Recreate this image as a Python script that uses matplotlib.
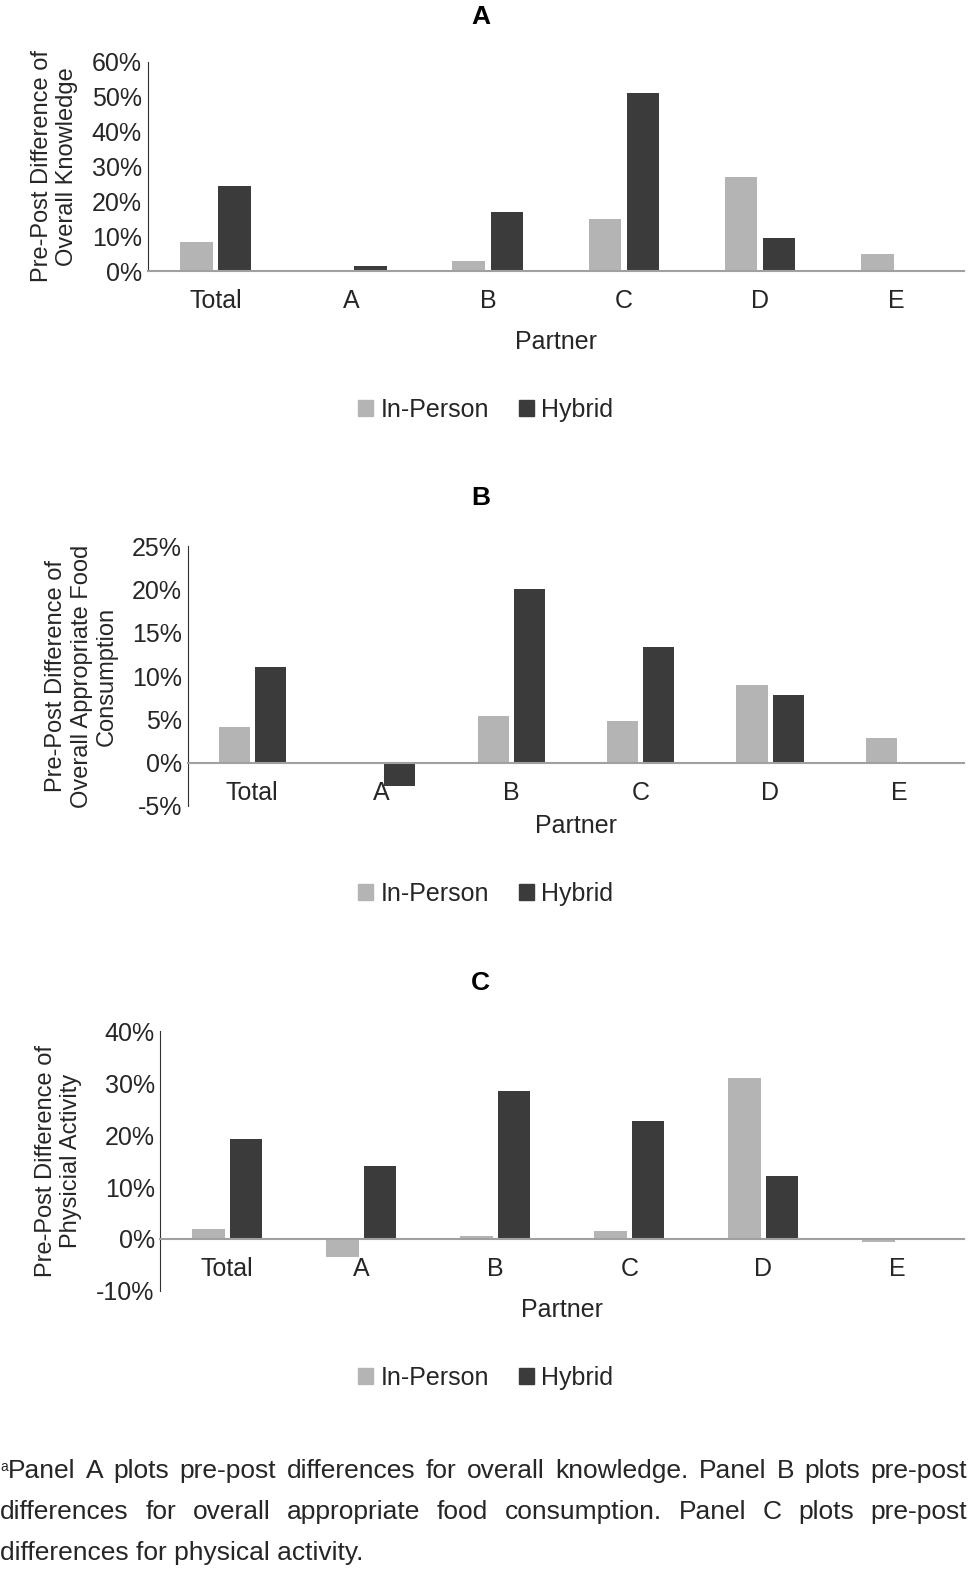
import numpy as np
import matplotlib.pyplot as plt
from matplotlib.ticker import FuncFormatter

plt.rcParams['font.family'] = ['Liberation Sans', 'DejaVu Sans']

partners = ["Total", "A", "B", "C", "D", "E"]
knowledge_in = [8.3, 0, 2.8, 15, 27, 5]
knowledge_hyb = [24.5, 1.5, 17, 51, 9.5, 0]
food_in = [4.1, 0, 5.4, 4.8, 9, 2.9]
food_hyb = [11, -2.7, 20, 13.3, 7.8, 0]
activity_in = [2, -3.4, 0.5, 1.5, 31, -0.5]
activity_hyb = [19.3, 14, 28.5, 22.7, 12.1, 0]

LIGHT = "#b4b4b4"
DARK = "#3b3b3b"
TXT = "#262626"

fig = plt.figure(figsize=(9.77, 15.85), dpi=100)
pct = FuncFormatter(lambda v, p: f"{v:.0f}%".replace("\u2212", "-"))

def panel(rect, title, title_y, ylabel, vin, vhyb, ylim, step, partner_y, legend_y):
    ax = fig.add_axes(rect)
    x = np.arange(len(partners))
    w = 0.24
    ax.bar(x - 0.14, vin, w, color=LIGHT)
    ax.bar(x + 0.14, vhyb, w, color=DARK)
    ax.set_xlim(-0.5, 5.5)
    ax.set_ylim(*ylim)
    ax.set_yticks(np.arange(ylim[0], ylim[1] + 0.1, step))
    ax.yaxis.set_major_formatter(pct)
    ax.set_xticks(x)
    ax.set_xticklabels(partners)
    ax.spines[['top', 'right']].set_visible(False)
    ax.spines['bottom'].set_position(('data', 0))
    ax.spines['bottom'].set_color("#a0a0a0")
    ax.spines['bottom'].set_linewidth(1.5)
    ax.spines['left'].set_color("#303030")
    ax.tick_params(axis='x', length=0, labelsize=18, pad=13, labelcolor=TXT)
    ax.tick_params(axis='y', length=0, labelsize=18, pad=4, labelcolor=TXT)
    fig.text(0.492, title_y, title, fontsize=19, fontweight='bold', ha='center', va='center')
    ax.set_ylabel(ylabel, fontsize=17, labelpad=10, color=TXT)
    ax.text(0.5, partner_y, "Partner", transform=ax.transAxes, ha='center',
            va='center', fontsize=18, color=TXT)
    h1 = plt.Rectangle((0, 0), 1, 1, color=LIGHT)
    h2 = plt.Rectangle((0, 0), 1, 1, color=DARK)
    ax.legend([h1, h2], ["In-Person", "Hybrid"], loc='center',
              bbox_to_anchor=(0.497, legend_y), bbox_transform=fig.transFigure,
              ncol=2, frameon=False, fontsize=18, handlelength=0.6, handleheight=0.6,
              handletextpad=0.3, columnspacing=1.2, labelcolor=TXT)
    return ax

panel([0.151, 0.829, 0.836, 0.132], "A", 1 - 17 / 1585,
      "Pre-Post Difference of\nOverall Knowledge",
      knowledge_in, knowledge_hyb, (0, 60), 10, -0.34, 1 - 410 / 1585)
panel([0.192, 0.4915, 0.795, 0.164], "B", 1 - 498 / 1585,
      "Pre-Post Difference of\nOverall Appropriate Food\nConsumption",
      food_in, food_hyb, (-5, 25), 5, -0.077, 1 - 894 / 1585)
panel([0.164, 0.1855, 0.823, 0.164], "C", 1 - 983 / 1585,
      "Pre-Post Difference of\nPhysicial Activity",
      activity_in, activity_hyb, (-10, 40), 10, -0.073, 1 - 1378 / 1585)

# caption, justified lines
lines = [
    "Panel A plots pre-post differences for overall knowledge. Panel B plots pre-post",
    "differences for overall appropriate food consumption. Panel C plots pre-post",
]
last = "differences for physical activity."
FS = 19
fig.text(0.0, 1 - 1471 / 1585, "a", fontsize=10, va='baseline', color=TXT)
renderer = fig.canvas.get_renderer()
ys = [1 - 1478 / 1585, 1 - 1519 / 1585]
for i, (line, y) in enumerate(zip(lines, ys)):
    words = line.split()
    x0 = 0.008 if i == 0 else 0.0
    x1 = 0.99
    widths = []
    for wd in words:
        t = fig.text(0, 0, wd, fontsize=FS)
        bb = t.get_window_extent(renderer)
        widths.append(bb.width / fig.bbox.width)
        t.remove()
    gap = (x1 - x0 - sum(widths)) / (len(words) - 1)
    xx = x0
    for wd, ww in zip(words, widths):
        fig.text(xx, y, wd, fontsize=FS, color=TXT, va='baseline')
        xx += ww + gap
fig.text(0.0, 1 - 1560 / 1585, last, fontsize=FS, color=TXT, va='baseline')

fig.savefig("out.png", dpi=100)
